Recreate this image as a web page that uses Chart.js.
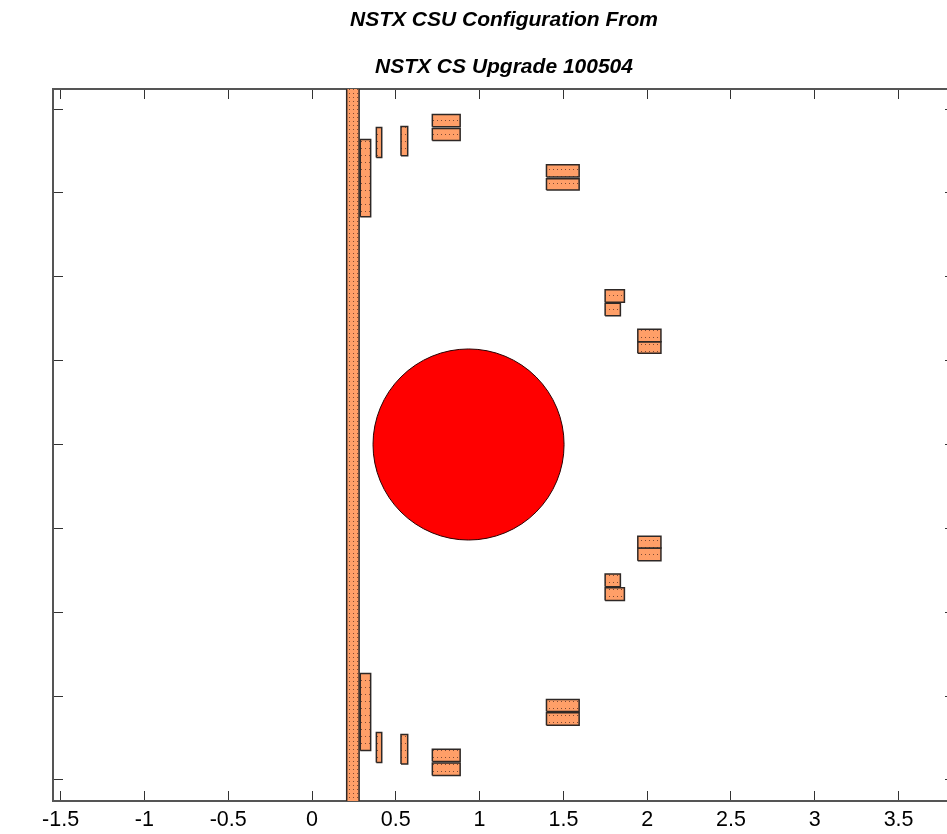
<!DOCTYPE html>
<html>
<head>
<meta charset="utf-8">
<title>NSTX CSU Configuration</title>
<script src="https://cdn.jsdelivr.net/npm/chart.js@4"></script>
<style>
  html, body { margin: 0; padding: 0; background: #ffffff; overflow: hidden; }
  #wrap { width: 947px; height: 834px; overflow: hidden; }
</style>
</head>
<body>
<div id="wrap"><canvas id="coilChart" width="960" height="834"></canvas></div>
<script>
const titleLine1 = "NSTX CSU Configuration From";
const titleLine2 = "NSTX CS Upgrade 100504";

const xTickValues = [-1.5, -1, -0.5, 0, 0.5, 1, 1.5, 2, 2.5, 3, 3.5];
const yTickValues = [-2, -1.5, -1, -0.5, 0, 0.5, 1, 1.5, 2];

// coil boxes, inner/outer radius and lower/upper height
const coilR1 = [0.207, 0.288, 0.384, 0.531, 0.718, 0.718, 1.399, 1.399, 1.749, 1.749, 1.944, 1.944,
                1.944, 1.944, 1.749, 1.749, 1.399, 1.399, 0.288, 0.384, 0.531, 0.718, 0.718];
const coilR2 = [0.281, 0.350, 0.416, 0.571, 0.884, 0.884, 1.594, 1.594, 1.864, 1.840, 2.082, 2.082,
                2.082, 2.082, 1.840, 1.864, 1.594, 1.594, 0.350, 0.416, 0.571, 0.884, 0.884];
const coilZ1 = [-2.2, 1.358, 1.712, 1.722, 1.895, 1.813, 1.595, 1.517, 0.849, 0.768, 0.613, 0.544,
                -0.617, -0.693, -0.848, -0.931, -1.593, -1.674, -1.825, -1.897, -1.905, -1.891, -1.974];
const coilZ2 = [2.2, 1.819, 1.891, 1.897, 1.968, 1.885, 1.668, 1.585, 0.923, 0.842, 0.687, 0.613,
                -0.547, -0.617, -0.772, -0.855, -1.521, -1.600, -1.366, -1.718, -1.730, -1.817, -1.900];

const plasmaR = [0.934];
const plasmaZ = [0];
const plasmaRadius = [0.57];

const plotFrame = { left: 53, top: 89, right: 955, bottom: 801 };

function makeStipple(w, h) {
  const c = document.createElement("canvas");
  c.width = w;
  c.height = h;
  const g = c.getContext("2d");
  g.fillStyle = "#ff9f68";
  g.fillRect(0, 0, w, h);
  g.fillStyle = "#7e4a34";
  g.fillRect(1, 1, 1, 1);
  return g.createPattern(c, "repeat");
}

const columnFill = makeStipple(4, 4);
const coilFill = makeStipple(4, 7);

///////////////////////////////////////////

const datasets = [];

for (let i = 0; i < coilR1.length; i++) {
  datasets.push({
    type: "scatter",
    showLine: true,
    data: [
      { x: coilR1[i], y: coilZ1[i] },
      { x: coilR2[i], y: coilZ1[i] },
      { x: coilR2[i], y: coilZ2[i] },
      { x: coilR1[i], y: coilZ2[i] },
      { x: coilR1[i], y: coilZ1[i] },
    ],
    fill: "shape",
    backgroundColor: i == 0 ? columnFill : coilFill,
    borderColor: "#2e2826",
    borderWidth: 1.5,
    pointRadius: 0,
    tension: 0,
  });
}

datasets.push({
  type: "scatter",
  data: plasmaR.map((r, i) => ({ x: r, y: plasmaZ[i] })),
  backgroundColor: "#ff0000",
  borderColor: "#2a0000",
  borderWidth: 1,
  pointRadius: function(ctx) {
    const xScale = ctx.chart.scales.x;
    return xScale.getPixelForValue(plasmaRadius[0]) - xScale.getPixelForValue(0);
  },
});

///////////////////////////////////////////

const axisRange = {
  x: { min: (plotFrame.left - 312) / 167.6, max: (plotFrame.right - 312) / 167.6 },
  y: { min: -2.126, max: 2.12 },
};

const tickFont = { family: "'Liberation Sans'", size: 21.5 };
const titleFont = { family: "'Liberation Sans'", size: 21, style: "italic", weight: "bold", lineHeight: 1.25 };

function xAxis(position, showLabels) {
  return {
    type: "linear",
    position: position,
    min: axisRange.x.min,
    max: axisRange.x.max,
    afterBuildTicks: function(scale) {
      scale.ticks = xTickValues.map(v => ({ value: v }));
    },
    afterFit: function(scale) {
      scale.height = position == "bottom" ? 834 - plotFrame.bottom : 0;
    },
    grid: { drawOnChartArea: false, tickLength: -10, tickColor: "#333333", tickWidth: 1 },
    border: { color: "#555555", width: 2 },
    ticks: {
      display: showLabels,
      autoSkip: false,
      maxRotation: 0,
      padding: 16,
      color: "#000000",
      font: tickFont,
      callback: function(value) { return String(value); },
    },
  };
}

function yAxis(position, showLabels) {
  return {
    type: "linear",
    position: position,
    min: axisRange.y.min,
    max: axisRange.y.max,
    afterBuildTicks: function(scale) {
      scale.ticks = yTickValues.map(v => ({ value: v }));
    },
    afterFit: function(scale) {
      scale.width = 0;
    },
    grid: { drawOnChartArea: false, tickLength: -10, tickColor: "#333333", tickWidth: 1 },
    border: { color: "#555555", width: 2 },
    ticks: {
      display: showLabels,
      autoSkip: false,
      padding: 17,
      color: "#000000",
      font: tickFont,
      callback: function(value) { return String(value); },
    },
  };
}

const coilChart = new Chart(document.getElementById("coilChart"), {
  type: "scatter",
  data: { datasets: datasets },
  options: {
    responsive: false,
    animation: false,
    events: [],
    layout: { padding: { left: plotFrame.left, top: 0, right: 960 - plotFrame.right, bottom: 0 } },
    plugins: {
      legend: { display: false },
      tooltip: { enabled: false },
      title: {
        display: true,
        text: titleLine1,
        color: "#000000",
        font: titleFont,
        padding: { top: 7, bottom: 0 },
      },
      subtitle: {
        display: true,
        text: titleLine2,
        color: "#000000",
        font: titleFont,
        padding: { top: 21, bottom: 8.5 },
      },
    },
    scales: {
      x: xAxis("bottom", true),
      x2: xAxis("top", false),
      y: yAxis("left", true),
      y2: yAxis("right", false),
    },
  },
});
</script>
</body>
</html>
